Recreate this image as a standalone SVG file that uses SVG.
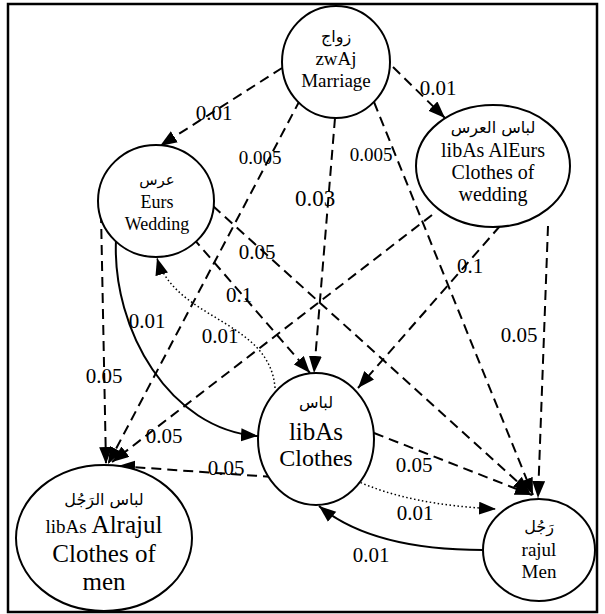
<svg xmlns="http://www.w3.org/2000/svg" width="605" height="614" viewBox="0 0 605 614">
<style>
.node{fill:#fff;stroke:#000;stroke-width:2}
.t{font-family:"Liberation Serif","Times New Roman",serif;fill:#000;text-anchor:middle}
.ar{font-family:"DejaVu Sans","Liberation Serif",sans-serif;fill:#000;text-anchor:middle}
.e{fill:none;stroke:#000;stroke-width:2}
.d{stroke-dasharray:10 6}
.o{stroke-width:1.5;stroke-dasharray:1.5 2.5}
.lbl{font-family:"Liberation Serif","Times New Roman",serif;font-size:21px;fill:#000;text-anchor:middle}
</style>
<defs>
<marker id="ah" markerUnits="userSpaceOnUse" markerWidth="18" markerHeight="14" refX="17" refY="6.5" orient="auto">
<path d="M0,0 L17,6.5 L0,13 z" fill="#000"/>
</marker>
</defs>
<rect x="8" y="4" width="589" height="608" fill="#fff" stroke="#000" stroke-width="2.5"/>
<g id="connectors">
<path class="e d" d="M282,68 L160,146" marker-end="url(#ah)"/>
<path class="e d" d="M393,67 L445,118" marker-end="url(#ah)"/>
<path class="e d" d="M300,100 L108,464" marker-end="url(#ah)"/>
<path class="e d" d="M335,118 L314,373" marker-end="url(#ah)"/>
<path class="e d" d="M374,102 L533,495" marker-end="url(#ah)"/>
<path class="e d" d="M101,213 L106,464" marker-end="url(#ah)"/>
<path class="e d" d="M193,238 L310,373" marker-end="url(#ah)"/>
<path class="e d" d="M213,206 L530,493" marker-end="url(#ah)"/>
<path class="e" d="M116,240 C112,330 170,430 258,436" marker-end="url(#ah)"/>
<path class="e o" d="M275,388 C270,320 175,320 157,258" marker-end="url(#ah)"/>
<path class="e d" d="M432,215 L112,462" marker-end="url(#ah)"/>
<path class="e d" d="M500,226 L358,388" marker-end="url(#ah)"/>
<path class="e d" d="M548,226 L538,498" marker-end="url(#ah)"/>
<path class="e d" d="M273,477 L118,466" marker-end="url(#ah)"/>
<path class="e d" d="M374,433 L532,495" marker-end="url(#ah)"/>
<path class="e o" d="M357,481 Q410,505 496,509" marker-end="url(#ah)"/>
<path class="e" d="M483,550 C420,550 360,540 319,506" marker-end="url(#ah)"/>
</g>
<g id="edge-labels">
<text class="lbl" x="214" y="120">0.01</text>
<text class="lbl" x="438" y="95">0.01</text>
<text class="lbl" x="260" y="164" style="font-size:19px">0.005</text>
<text class="lbl" x="371" y="161" style="font-size:19px">0.005</text>
<text class="lbl" x="315" y="206" style="font-size:23px">0.03</text>
<text class="lbl" x="257" y="259">0.05</text>
<text class="lbl" x="239" y="302">0.1</text>
<text class="lbl" x="470" y="273">0.1</text>
<text class="lbl" x="147" y="328">0.01</text>
<text class="lbl" x="220" y="343">0.01</text>
<text class="lbl" x="104" y="383">0.05</text>
<text class="lbl" x="519" y="342">0.05</text>
<text class="lbl" x="164" y="443">0.05</text>
<text class="lbl" x="226" y="475">0.05</text>
<text class="lbl" x="414" y="472">0.05</text>
<text class="lbl" x="415" y="520">0.01</text>
<text class="lbl" x="371" y="562">0.01</text>
</g>
<g id="n-marriage">
<ellipse class="node" cx="336" cy="62" rx="54" ry="56"/>
<text class="ar" x="336" y="42" font-size="16">زواج</text>
<text class="t" x="336" y="65" font-size="19">zwAj</text>
<text class="t" x="336" y="87" font-size="19">Marriage</text>
</g>
<g id="n-wedding">
<ellipse class="node" cx="156" cy="201" rx="58" ry="56"/>
<text class="ar" x="157" y="185" font-size="15">عرس</text>
<text class="t" x="157" y="208" font-size="18">Eurs</text>
<text class="t" x="157" y="230" font-size="18">Wedding</text>
</g>
<g id="n-clothes-wedding">
<ellipse class="node" cx="493" cy="166" rx="77" ry="61"/>
<text class="ar" x="493" y="133" font-size="16">لباس العرس</text>
<text class="t" x="493" y="157" font-size="20">libAs AlEurs</text>
<text class="t" x="493" y="179" font-size="20">Clothes of</text>
<text class="t" x="493" y="201" font-size="20">wedding</text>
</g>
<g id="n-clothes">
<ellipse class="node" cx="316" cy="439" rx="58" ry="66"/>
<text class="ar" x="316" y="408" font-size="16">لباس</text>
<text class="t" x="316" y="440" font-size="25">libAs</text>
<text class="t" x="316" y="466" font-size="24">Clothes</text>
</g>
<g id="n-clothes-men">
<ellipse class="node" cx="104" cy="538" rx="88" ry="73"/>
<text class="ar" x="104" y="505" font-size="16">لباس الرَجُل</text>
<text class="t" x="104" y="533" font-size="25"><tspan font-size="19">libAs</tspan> Alrajul</text>
<text class="t" x="104" y="562" font-size="25">Clothes of</text>
<text class="t" x="104" y="590" font-size="25">men</text>
</g>
<g id="n-men">
<ellipse class="node" cx="539" cy="550" rx="56" ry="51"/>
<text class="ar" x="539" y="532" font-size="16">رَجُل</text>
<text class="t" x="539" y="556" font-size="19">rajul</text>
<text class="t" x="539" y="578" font-size="19">Men</text>
</g>
</svg>
